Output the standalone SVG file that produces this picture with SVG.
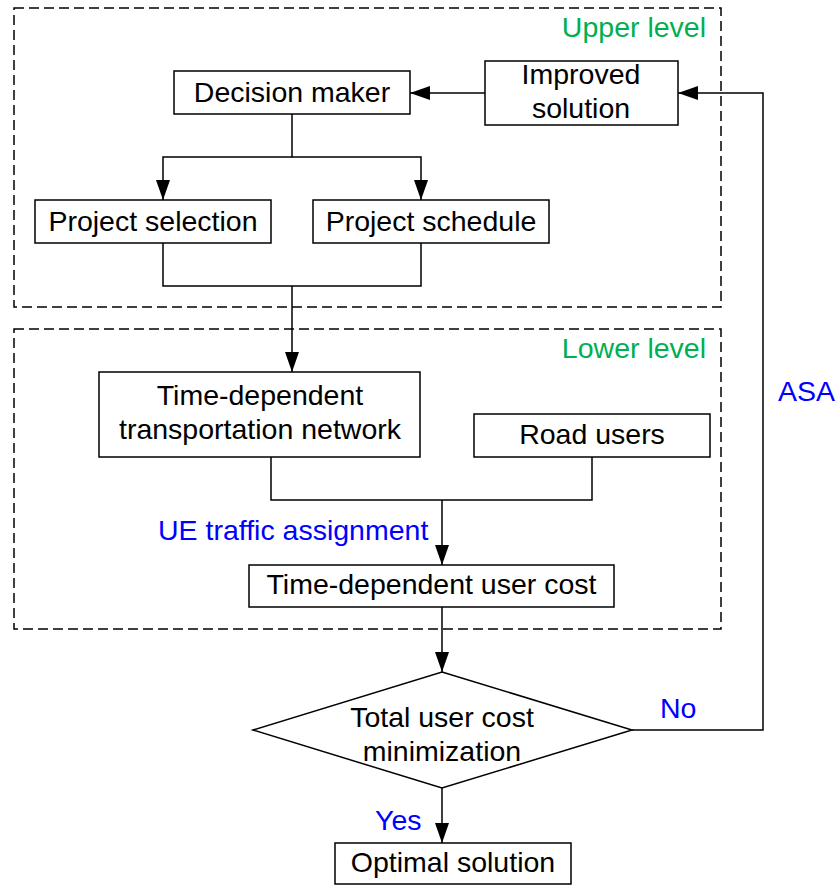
<svg xmlns="http://www.w3.org/2000/svg" width="837" height="886" viewBox="0 0 837 886">
<style>
.box{fill:#fff;stroke:#000;stroke-width:1.5}
.dash{fill:none;stroke:#000;stroke-width:1.5;stroke-dasharray:10,5}
.ln{fill:none;stroke:#000;stroke-width:1.5}
.t{font-family:"Liberation Sans",Arial,sans-serif;font-size:28.5px;fill:#000;text-anchor:middle}
.g{font-family:"Liberation Sans",Arial,sans-serif;font-size:28.5px;fill:#00B050;text-anchor:end}
.b{font-family:"Liberation Sans",Arial,sans-serif;font-size:28.5px;fill:#0000FF}
</style>
<defs>
<marker id="arr" markerUnits="userSpaceOnUse" markerWidth="20" markerHeight="14" refX="20" refY="7" orient="auto">
<path d="M0,0 L20,7 L0,14 z" fill="#000"/>
</marker>
</defs>
<g id="upper-level">
<rect class="dash" x="14" y="8" width="707" height="299"/>
<text class="g" x="706" y="37">Upper level</text>
</g>
<g id="lower-level">
<rect class="dash" x="14" y="329" width="707" height="300"/>
<text class="g" x="706" y="358">Lower level</text>
</g>
<g id="connectors">
<path class="ln" d="M485,93 L410,93" marker-end="url(#arr)"/>
<path class="ln" d="M292,114 L292,157 L163,157 L163,200" marker-end="url(#arr)"/>
<path class="ln" d="M292,157 L421,157 L421,200" marker-end="url(#arr)"/>
<path class="ln" d="M163,243 L163,286 L421,286 L421,243"/>
<path class="ln" d="M292,286 L292,372" marker-end="url(#arr)"/>
<path class="ln" d="M271,457 L271,500 L592,500 L592,457"/>
<path class="ln" d="M442,500 L442,565" marker-end="url(#arr)"/>
<path class="ln" d="M442,607 L442,672" marker-end="url(#arr)"/>
<path class="ln" d="M442,788 L442,843" marker-end="url(#arr)"/>
<path class="ln" d="M632,730 L763,730 L763,93 L678,93" marker-end="url(#arr)"/>
<text class="b" x="158" y="540">UE traffic assignment</text>
<text class="b" x="778" y="401">ASA</text>
<text class="b" x="660" y="718">No</text>
<text class="b" x="375" y="830">Yes</text>
</g>
<g id="decision-maker">
<rect class="box" x="174" y="71" width="236" height="43"/>
<text class="t" x="292" y="102">Decision maker</text>
</g>
<g id="improved-solution">
<rect class="box" x="485" y="61" width="193" height="64"/>
<text class="t" x="581" y="84">Improved</text>
<text class="t" x="581" y="118">solution</text>
</g>
<g id="project-selection">
<rect class="box" x="35" y="200" width="236" height="43"/>
<text class="t" x="153" y="231">Project selection</text>
</g>
<g id="project-schedule">
<rect class="box" x="313" y="200" width="236" height="43"/>
<text class="t" x="431" y="231">Project schedule</text>
</g>
<g id="td-network">
<rect class="box" x="99" y="372" width="321" height="85"/>
<text class="t" x="260" y="405">Time-dependent</text>
<text class="t" x="260" y="439">transportation network</text>
</g>
<g id="road-users">
<rect class="box" x="474" y="414" width="236" height="43"/>
<text class="t" x="592" y="444">Road users</text>
</g>
<g id="td-user-cost">
<rect class="box" x="249" y="565" width="365" height="42"/>
<text class="t" x="431.5" y="594">Time-dependent user cost</text>
</g>
<g id="minimization">
<polygon class="box" points="442,672 632,730 442,788 253,730"/>
<text class="t" x="442" y="727">Total user cost</text>
<text class="t" x="442" y="761">minimization</text>
</g>
<g id="optimal-solution">
<rect class="box" x="335" y="843" width="236" height="41"/>
<text class="t" x="453" y="872">Optimal solution</text>
</g>
</svg>
